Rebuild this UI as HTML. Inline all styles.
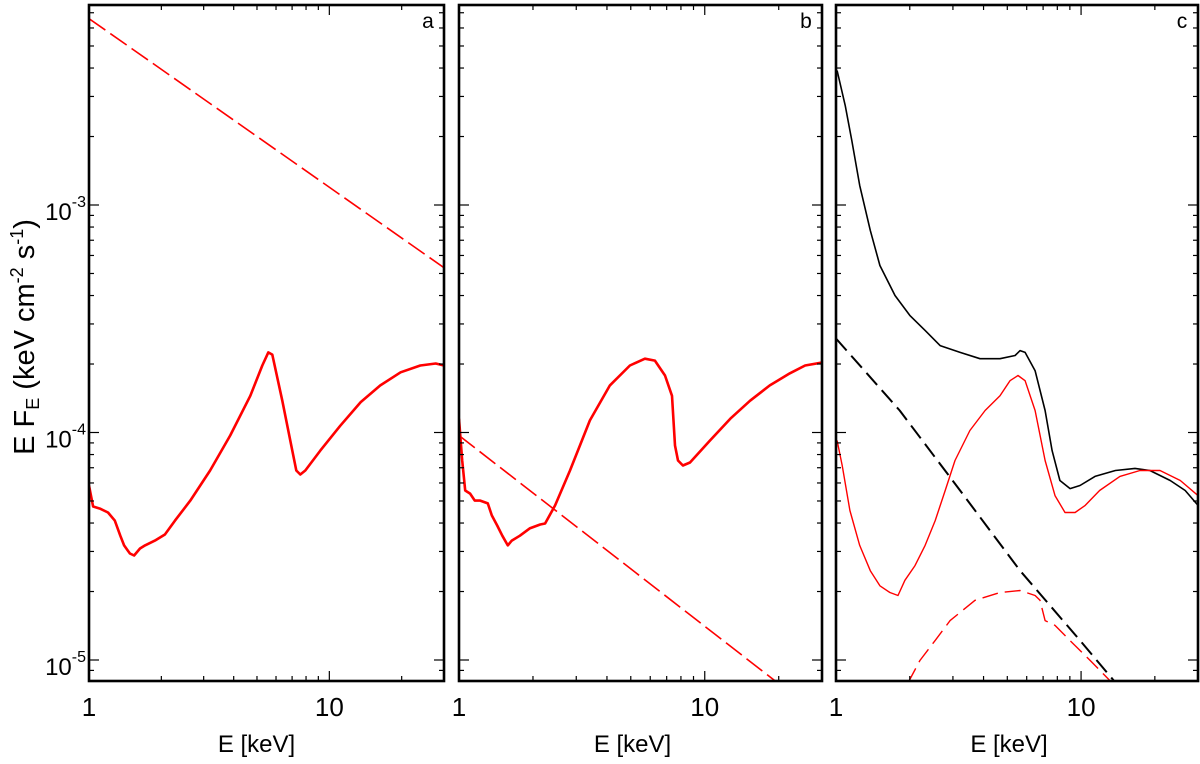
<!DOCTYPE html>
<html><head><meta charset="utf-8"><style>
body{margin:0;background:#fff;}
svg{display:block;font-family:"Liberation Sans",sans-serif;}
</style></head><body>
<svg id="chart" width="1200" height="764" viewBox="0 0 1200 764">
<g transform="translate(34,337) rotate(-90)">
<text x="0" y="0" text-anchor="middle" font-size="29">E F<tspan font-size="18" dy="5">E</tspan><tspan dy="-5"> (keV cm</tspan><tspan font-size="18" dy="-11">-2</tspan><tspan dy="11"> s</tspan><tspan font-size="18" dy="-11">-1</tspan><tspan dy="11">)</tspan></text>
</g>
</svg>
<script>
// Panel a
const aE=[1,1.04,1.11,1.2,1.28,1.35,1.4,1.48,1.54,1.63,1.71,1.88,2.07,2.28,2.64,3.19,3.87,4.69,5.26,5.57,5.79,6.37,7.01,7.29,7.57,7.94,9.17,11.1,13.5,16.3,19.8,23.9,27.7,30];
const aF=[5.85e-5,4.73e-5,4.63e-5,4.45e-5,4.1e-5,3.52e-5,3.19e-5,2.94e-5,2.88e-5,3.09e-5,3.19e-5,3.35e-5,3.56e-5,4.1e-5,5.02e-5,6.81e-5,9.7e-5,1.45e-4,1.97e-4,2.25e-4,2.2e-4,1.38e-4,8.33e-5,6.81e-5,6.54e-5,6.81e-5,8.33e-5,1.07e-4,1.36e-4,1.61e-4,1.84e-4,1.97e-4,2.01e-4,1.97e-4];
const aDashE=[1,30];
const aDashF=[6.6e-3,5.3e-4];
// Panel b
const bE=[1,1.03,1.06,1.11,1.16,1.22,1.31,1.36,1.43,1.5,1.58,1.64,1.77,1.94,2.14,2.24,2.46,2.83,3.41,4.11,4.96,5.71,6.27,6.89,7.36,7.57,7.78,8.15,8.71,10.5,12.7,15.3,18.4,22.2,25.6,30];
const bF=[1.15e-4,7.53e-5,5.56e-5,5.39e-5,5.02e-5,5.02e-5,4.88e-5,4.32e-5,3.9e-5,3.52e-5,3.19e-5,3.35e-5,3.52e-5,3.79e-5,3.94e-5,3.98e-5,4.78e-5,6.81e-5,1.13e-4,1.61e-4,1.97e-4,2.11e-4,2.07e-4,1.78e-4,1.45e-4,8.77e-5,7.53e-5,7.16e-5,7.38e-5,9.22e-5,1.15e-4,1.38e-4,1.61e-4,1.82e-4,1.97e-4,2.03e-4];
const bDashE=[1,30];
const bDashF=[9.7e-5,5.6e-6];
// Panel c
const cTotE=[1.01,1.09,1.16,1.25,1.38,1.51,1.74,2.0,2.31,2.66,3.21,3.87,4.67,5.38,5.64,5.91,6.49,7.13,7.62,8.2,9.02,9.9,11.4,13.8,16.6,19.1,23.1,26.6,30];
const cTotF=[3.9e-3,2.74e-3,1.92e-3,1.22e-3,7.73e-4,5.42e-4,4.0e-4,3.27e-4,2.81e-4,2.41e-4,2.25e-4,2.11e-4,2.11e-4,2.18e-4,2.29e-4,2.25e-4,1.87e-4,1.25e-4,8.33e-5,6.15e-5,5.67e-5,5.85e-5,6.41e-5,6.81e-5,6.95e-5,6.81e-5,6.15e-5,5.56e-5,4.78e-5];
const cPlE=[1,1.82,3.21,5.64,9.9,13.8];
const cPlF=[2.59e-4,1.25e-4,5.56e-5,2.47e-5,1.22e-5,7.96e-6];
const cRedE=[1.01,1.06,1.14,1.25,1.38,1.51,1.66,1.79,1.91,2.1,2.31,2.54,2.79,3.06,3.52,4.06,4.67,5.13,5.53,5.91,6.49,7.13,7.83,8.6,9.45,10.4,11.9,14.4,17.4,21.0,25.4,30];
const cRedF=[9.22e-5,7.16e-5,4.54e-5,3.19e-5,2.47e-5,2.12e-5,1.98e-5,1.92e-5,2.24e-5,2.6e-5,3.19e-5,4.1e-5,5.56e-5,7.53e-5,1.02e-4,1.25e-4,1.45e-4,1.69e-4,1.78e-4,1.69e-4,1.25e-4,7.53e-5,5.28e-5,4.45e-5,4.45e-5,4.78e-5,5.56e-5,6.41e-5,6.81e-5,6.81e-5,6.15e-5,5.28e-5];
const cRedDE=[1.97,2.2,2.54,2.92,3.69,4.67,5.64,6.49,6.8,7.13,7.83,9.0,10.9,13.1];
const cRedDF=[7.96e-6,9.95e-6,1.22e-5,1.49e-5,1.83e-5,1.98e-5,2.02e-5,1.92e-5,1.83e-5,1.49e-5,1.42e-5,1.22e-5,9.95e-6,8.13e-6];
const yTickLabels=["10","10","10"];
const yTickExps=["-3","-4","-5"];
const yTickVals=[1e-3,1e-4,1e-5];

const NS="http://www.w3.org/2000/svg";
const svg=document.getElementById('chart');
const TOP=5,BOT=681,XMAX=30;
const yOf=f=>205-(Math.log10(f)+3)*227.5;
function mk(tag,attrs,parent){const e=document.createElementNS(NS,tag);for(const k in attrs)e.setAttribute(k,attrs[k]);(parent||svg).appendChild(e);return e;}
const panels=[
 {id:'a',L:89,R:444,series:[[aE,aF,'red',2.6,null],[aDashE,aDashF,'red',1.6,'20,6']]},
 {id:'b',L:459,R:822,series:[[bE,bF,'red',2.6,null],[bDashE,bDashF,'red',1.6,'20,6']]},
 {id:'c',L:836,R:1198,series:[[cTotE,cTotF,'black',1.6,null],[cPlE,cPlF,'black',2,'16,7'],[cRedE,cRedF,'red',1.4,null],[cRedDE,cRedDF,'red',1.4,'16,7']]}
];
panels.forEach((p,i)=>{
 const dec=(p.R-p.L)/Math.log10(XMAX);
 const xOf=e=>p.L+Math.log10(e)*dec;
 const g=mk('g',{});
 
 
 const cp=mk('clipPath',{id:'clip'+i},g);
 mk('rect',{x:p.L,y:TOP,width:p.R-p.L,height:BOT-TOP},cp);
 p.series.forEach((s,j)=>{
  const d=s[0].map((e,k)=>(k?'L':'M')+xOf(e).toFixed(1)+','+yOf(s[1][k]).toFixed(1)).join('');
  const path=mk('path',{d:d,fill:'none',stroke:s[2],'stroke-width':s[3],'clip-path':'url(#clip'+i+')','stroke-linejoin':'round'},g);
  if(s[4])path.setAttribute('stroke-dasharray',s[4]);
  
  
 });
 [2,3,4,5,6,7,8,9,10,20].forEach(v=>{
  const x=xOf(v),len=v===10?10:5;
  mk('line',{x1:x,x2:x,y1:BOT,y2:BOT-len,stroke:'#000','stroke-width':1.2},g);
  mk('line',{x1:x,x2:x,y1:TOP,y2:TOP+len,stroke:'#000','stroke-width':1.2},g);
 });
 for(let ex=-6;ex<=-2;ex++)for(let m=1;m<=9;m++){
  const y=yOf(m*Math.pow(10,ex));if(y<TOP+1||y>BOT-1)continue;
  const len=m===1?10:5;
  mk('line',{x1:p.L,x2:p.L+len,y1:y,y2:y,stroke:'#000','stroke-width':1.2},g);
  mk('line',{x1:p.R,x2:p.R-len,y1:y,y2:y,stroke:'#000','stroke-width':1.2},g);
 }
 const fr=mk('rect',{x:p.L,y:TOP,width:p.R-p.L,height:BOT-TOP,fill:'none',stroke:'#000','stroke-width':2.6},g);
 
 
 const t1=mk('text',{x:xOf(1),y:716,'text-anchor':'middle','font-size':26},g);t1.textContent='1';
 
 
 const t10=mk('text',{x:xOf(10),y:716,'text-anchor':'middle','font-size':26},g);t10.textContent='10';
 
 
 const xl=mk('text',{x:(p.L+p.R)/2-(i===0?10:8),y:752,'text-anchor':'middle','font-size':24},g);xl.textContent='E [keV]';
 
 
 const pl=mk('text',{x:p.R-16,y:28,'text-anchor':'middle','font-size':21},g);pl.textContent=p.id;
 
 
 if(i===0){
  yTickVals.forEach((v,k)=>{
   const t=mk('text',{x:86,y:yOf(v)+15,'text-anchor':'end','font-size':24},g);
   t.textContent=yTickLabels[k];
   const sp=mk('tspan',{'font-size':16,dy:-13},t);sp.textContent=yTickExps[k];
   
   
  });
 }
});
</script>
</body></html>
